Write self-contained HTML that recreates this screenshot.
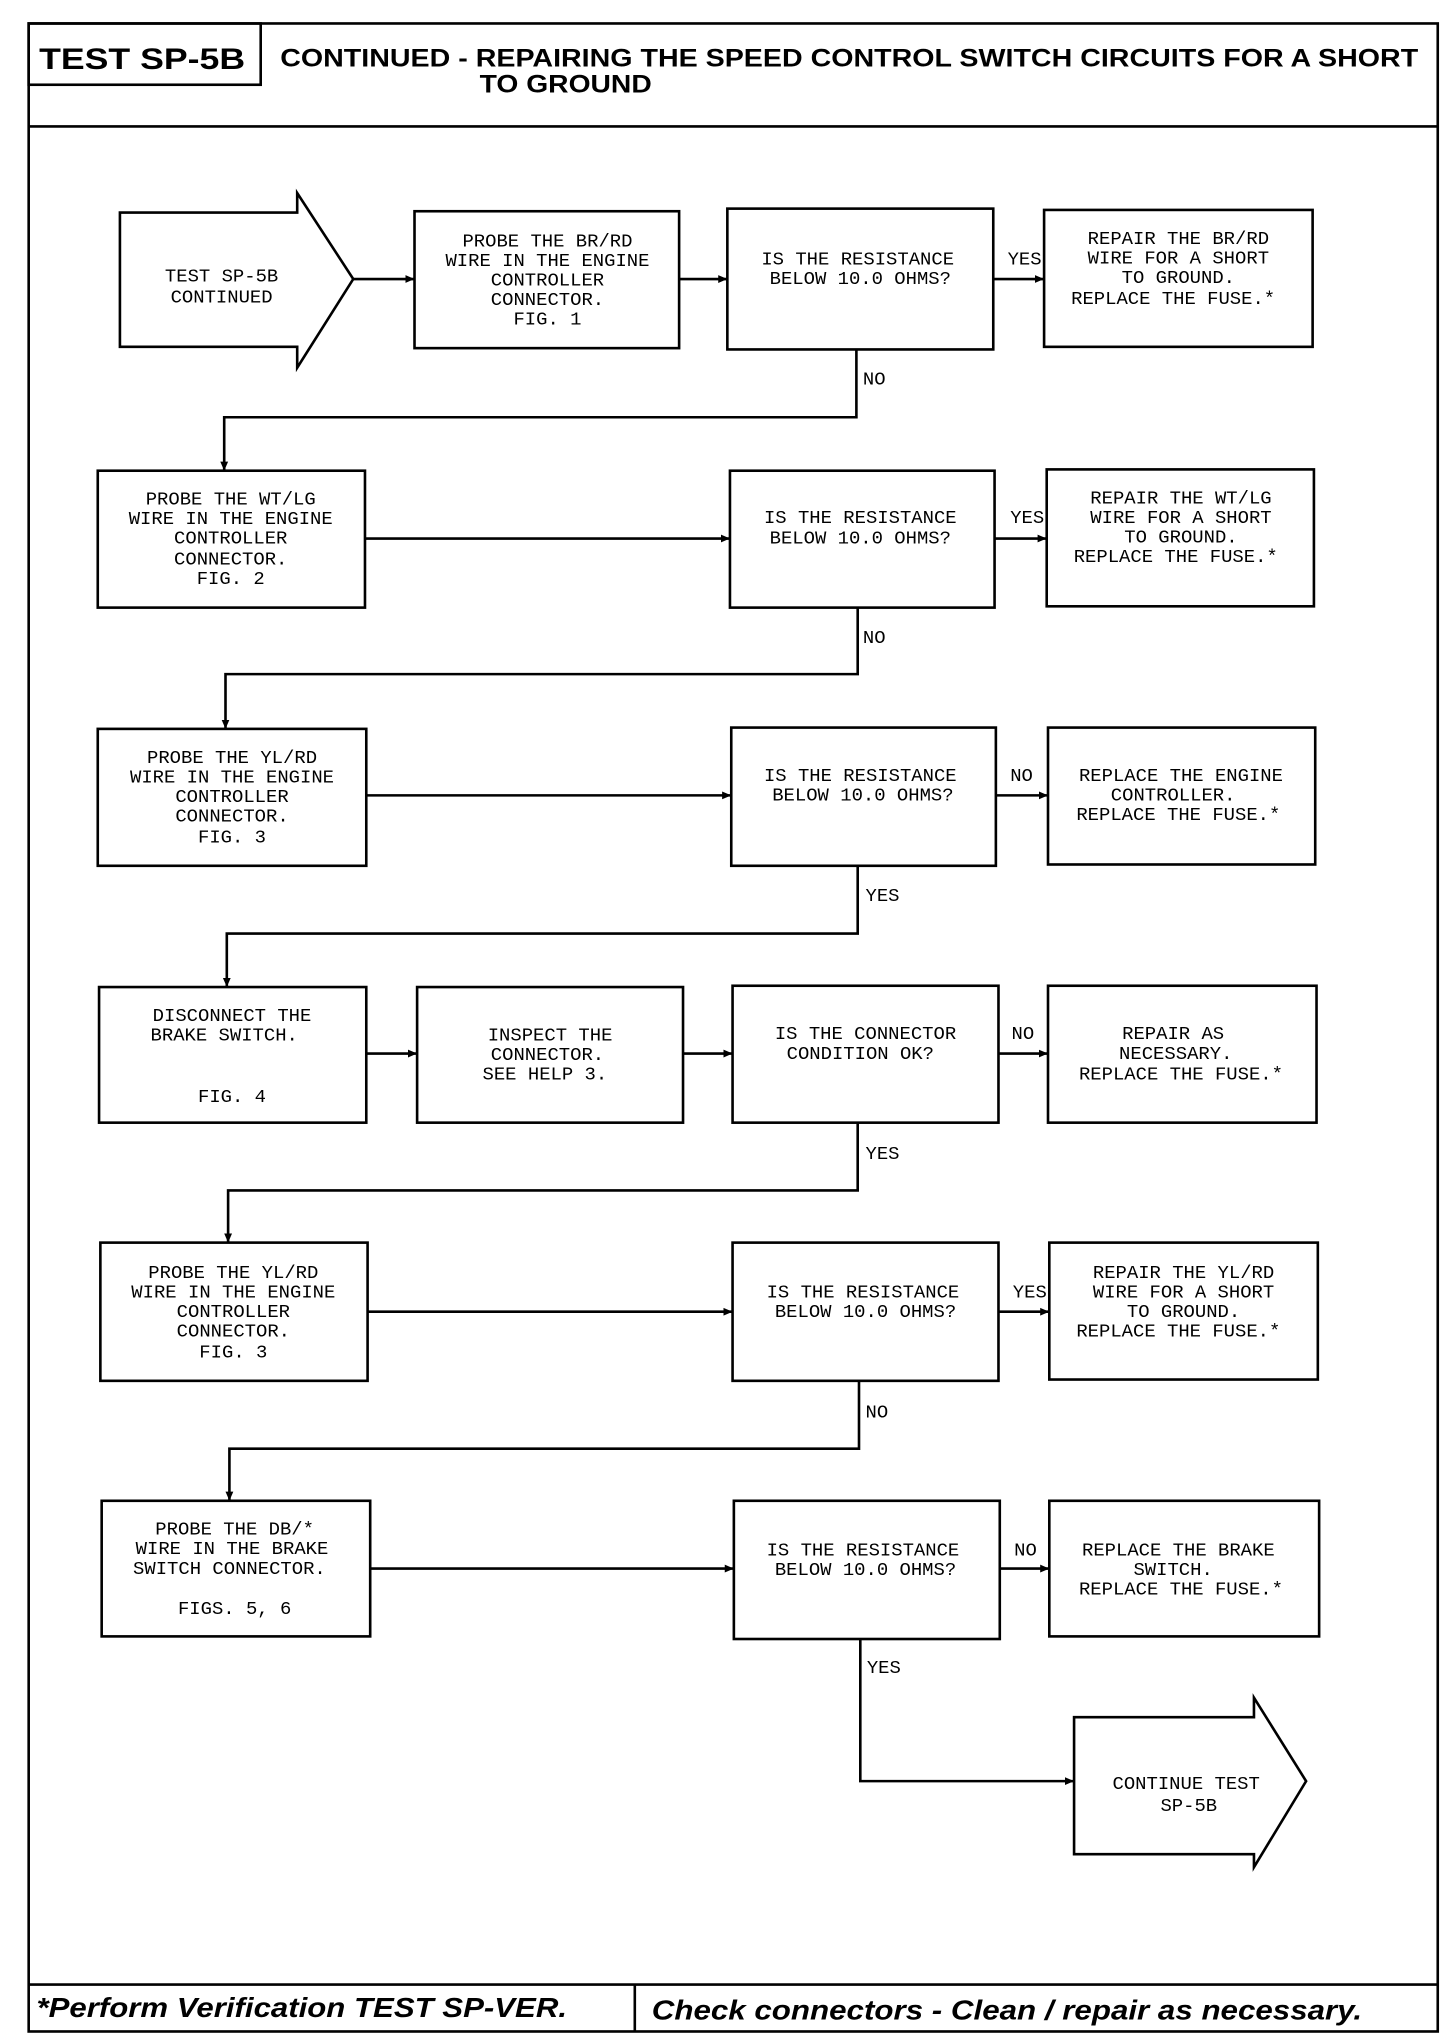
<!DOCTYPE html>
<html><head><meta charset="utf-8"><style>
html,body{margin:0;padding:0;background:#fff;}
svg{display:block;}
.t{font-family:"Liberation Mono",monospace;font-size:14.5px;fill:#000;text-anchor:middle;}
.l{font-family:"Liberation Mono",monospace;font-size:14.5px;fill:#000;}
</style></head><body>
<svg width="1456" height="2038" viewBox="0 0 1117 1563" preserveAspectRatio="none" xmlns="http://www.w3.org/2000/svg">
<defs><marker id="a" markerWidth="8" markerHeight="8" refX="7" refY="4" orient="auto" markerUnits="userSpaceOnUse"><path d="M0,1 L7,4 L0,7 z" fill="#000"/></marker></defs>
<g fill="none" stroke="#000" stroke-width="2">
<rect x="22" y="18" width="1081" height="1540"/>
<rect x="22" y="18" width="178" height="47"/>
<line x1="22" y1="97" x2="1103" y2="97"/>
<line x1="22" y1="1522" x2="1103" y2="1522"/>
<line x1="487" y1="1522" x2="487" y2="1558"/>
<!-- start arrow -->
<path d="M92,163 L228,163 L228,148 L271,214 L228,282 L228,266 L92,266 z"/>
<rect x="318" y="162" width="203" height="105"/>
<rect x="558" y="160" width="204" height="108"/>
<rect x="801" y="161" width="206" height="105"/>
<rect x="75" y="361" width="205" height="105"/>
<rect x="560" y="361" width="203" height="105"/>
<rect x="803" y="360" width="205" height="105"/>
<rect x="75" y="559" width="206" height="105"/>
<rect x="561" y="558" width="203" height="106"/>
<rect x="804" y="558" width="205" height="105"/>
<rect x="76" y="757" width="205" height="104"/>
<rect x="320" y="757" width="204" height="104"/>
<rect x="562" y="756" width="204" height="105"/>
<rect x="804" y="756" width="206" height="105"/>
<rect x="77" y="953" width="205" height="106"/>
<rect x="562" y="953" width="204" height="106"/>
<rect x="805" y="953" width="206" height="105"/>
<rect x="78" y="1151" width="206" height="104"/>
<rect x="563" y="1151" width="204" height="106"/>
<rect x="805" y="1151" width="207" height="104"/>
<path d="M824,1317 L962,1317 L962,1302 L1002,1366 L962,1432 L962,1422 L824,1422 z"/>
</g>
<g fill="none" stroke="#000" stroke-width="2" marker-end="url(#a)">
<line x1="271" y1="214" x2="318" y2="214"/>
<line x1="521" y1="214" x2="558" y2="214"/>
<line x1="762" y1="214" x2="801" y2="214"/>
<polyline points="657,268 657,320 172,320 172,361"/>
<line x1="280" y1="413" x2="560" y2="413"/>
<line x1="763" y1="413" x2="803" y2="413"/>
<polyline points="658,466 658,517 173,517 173,559"/>
<line x1="281" y1="610" x2="561" y2="610"/>
<line x1="764" y1="610" x2="804" y2="610"/>
<polyline points="658,664 658,716 174,716 174,757"/>
<line x1="281" y1="808" x2="320" y2="808"/>
<line x1="524" y1="808" x2="562" y2="808"/>
<line x1="766" y1="808" x2="804" y2="808"/>
<polyline points="658,861 658,913 175,913 175,953"/>
<line x1="282" y1="1006" x2="562" y2="1006"/>
<line x1="766" y1="1006" x2="805" y2="1006"/>
<polyline points="659,1059 659,1111 176,1111 176,1151"/>
<line x1="284" y1="1203" x2="563" y2="1203"/>
<line x1="767" y1="1203" x2="805" y2="1203"/>
<polyline points="660,1257 660,1366 824,1366"/>
</g>
<!-- header -->
<text x="30" y="53" font-family="Liberation Sans,sans-serif" font-weight="bold" font-size="23" textLength="158" lengthAdjust="spacingAndGlyphs">TEST SP-5B</text>
<text x="215" y="51" font-family="Liberation Sans,sans-serif" font-weight="bold" font-size="19" textLength="873" lengthAdjust="spacingAndGlyphs">CONTINUED -  REPAIRING THE SPEED CONTROL SWITCH CIRCUITS FOR A SHORT</text>
<text x="368" y="71" font-family="Liberation Sans,sans-serif" font-weight="bold" font-size="19" textLength="132" lengthAdjust="spacingAndGlyphs">TO GROUND</text>
<!-- footer -->
<text x="28" y="1547" font-family="Liberation Sans,sans-serif" font-weight="bold" font-style="italic" font-size="21" textLength="407" lengthAdjust="spacingAndGlyphs">*Perform Verification TEST SP-VER.</text>
<text x="500" y="1549" font-family="Liberation Sans,sans-serif" font-weight="bold" font-style="italic" font-size="21" textLength="545" lengthAdjust="spacingAndGlyphs">Check connectors - Clean / repair as necessary.</text>
<!-- node text -->
<text class="t" x="170" y="216">TEST SP-5B</text><text class="t" x="170" y="232">CONTINUED</text>
<text class="t" x="420" y="189">PROBE THE BR/RD</text><text class="t" x="420" y="204">WIRE IN THE ENGINE</text><text class="t" x="420" y="219">CONTROLLER</text><text class="t" x="420" y="234">CONNECTOR.</text><text class="t" x="420" y="249">FIG. 1</text>
<text class="t" x="658" y="203">IS THE RESISTANCE</text><text class="t" x="660" y="218">BELOW 10.0 OHMS?</text>
<text class="t" x="904" y="187">REPAIR THE BR/RD</text><text class="t" x="904" y="202">WIRE FOR A SHORT</text><text class="t" x="904" y="217">TO GROUND.</text><text class="t" x="900" y="233">REPLACE THE FUSE.*</text>
<text class="l" x="773" y="203">YES</text><text class="l" x="662" y="295">NO</text>

<text class="t" x="177" y="387">PROBE THE WT/LG</text><text class="t" x="177" y="402">WIRE IN THE ENGINE</text><text class="t" x="177" y="417">CONTROLLER</text><text class="t" x="177" y="433">CONNECTOR.</text><text class="t" x="177" y="448">FIG. 2</text>
<text class="t" x="660" y="401">IS THE RESISTANCE</text><text class="t" x="660" y="417">BELOW 10.0 OHMS?</text>
<text class="t" x="906" y="386">REPAIR THE WT/LG</text><text class="t" x="906" y="401">WIRE FOR A SHORT</text><text class="t" x="906" y="416">TO GROUND.</text><text class="t" x="902" y="431">REPLACE THE FUSE.*</text>
<text class="l" x="775" y="401">YES</text><text class="l" x="662" y="493">NO</text>

<text class="t" x="178" y="585">PROBE THE YL/RD</text><text class="t" x="178" y="600">WIRE IN THE ENGINE</text><text class="t" x="178" y="615">CONTROLLER</text><text class="t" x="178" y="630">CONNECTOR.</text><text class="t" x="178" y="646">FIG. 3</text>
<text class="t" x="660" y="599">IS THE RESISTANCE</text><text class="t" x="662" y="614">BELOW 10.0 OHMS?</text>
<text class="t" x="906" y="599">REPLACE THE ENGINE</text><text class="t" x="900" y="614">CONTROLLER.</text><text class="t" x="904" y="629">REPLACE THE FUSE.*</text>
<text class="l" x="775" y="599">NO</text><text class="l" x="664" y="691">YES</text>

<text class="t" x="178" y="783">DISCONNECT THE</text><text class="t" x="172" y="798">BRAKE SWITCH.</text><text class="t" x="178" y="845">FIG. 4</text>
<text class="t" x="422" y="798">INSPECT THE</text><text class="t" x="420" y="813">CONNECTOR.</text><text class="t" x="418" y="828">SEE HELP 3.</text>
<text class="t" x="664" y="797">IS THE CONNECTOR</text><text class="t" x="660" y="812">CONDITION OK?</text>
<text class="t" x="900" y="797">REPAIR AS</text><text class="t" x="902" y="812">NECESSARY.</text><text class="t" x="906" y="828">REPLACE THE FUSE.*</text>
<text class="l" x="776" y="797">NO</text><text class="l" x="664" y="889">YES</text>

<text class="t" x="179" y="980">PROBE THE YL/RD</text><text class="t" x="179" y="995">WIRE IN THE ENGINE</text><text class="t" x="179" y="1010">CONTROLLER</text><text class="t" x="179" y="1025">CONNECTOR.</text><text class="t" x="179" y="1041">FIG. 3</text>
<text class="t" x="662" y="995">IS THE RESISTANCE</text><text class="t" x="664" y="1010">BELOW 10.0 OHMS?</text>
<text class="t" x="908" y="980">REPAIR THE YL/RD</text><text class="t" x="908" y="995">WIRE FOR A SHORT</text><text class="t" x="908" y="1010">TO GROUND.</text><text class="t" x="904" y="1025">REPLACE THE FUSE.*</text>
<text class="l" x="777" y="995">YES</text><text class="l" x="664" y="1087">NO</text>

<text class="t" x="180" y="1177">PROBE THE DB/*</text><text class="t" x="178" y="1192">WIRE IN THE BRAKE</text><text class="t" x="176" y="1207">SWITCH CONNECTOR.</text><text class="t" x="180" y="1238">FIGS. 5, 6</text>
<text class="t" x="662" y="1193">IS THE RESISTANCE</text><text class="t" x="664" y="1208">BELOW 10.0 OHMS?</text>
<text class="t" x="904" y="1193">REPLACE THE BRAKE</text><text class="t" x="900" y="1208">SWITCH.</text><text class="t" x="906" y="1223">REPLACE THE FUSE.*</text>
<text class="l" x="778" y="1193">NO</text><text class="l" x="665" y="1283">YES</text>

<text class="t" x="910" y="1372">CONTINUE TEST</text><text class="t" x="912" y="1389">SP-5B</text>
</svg>
</body></html>
